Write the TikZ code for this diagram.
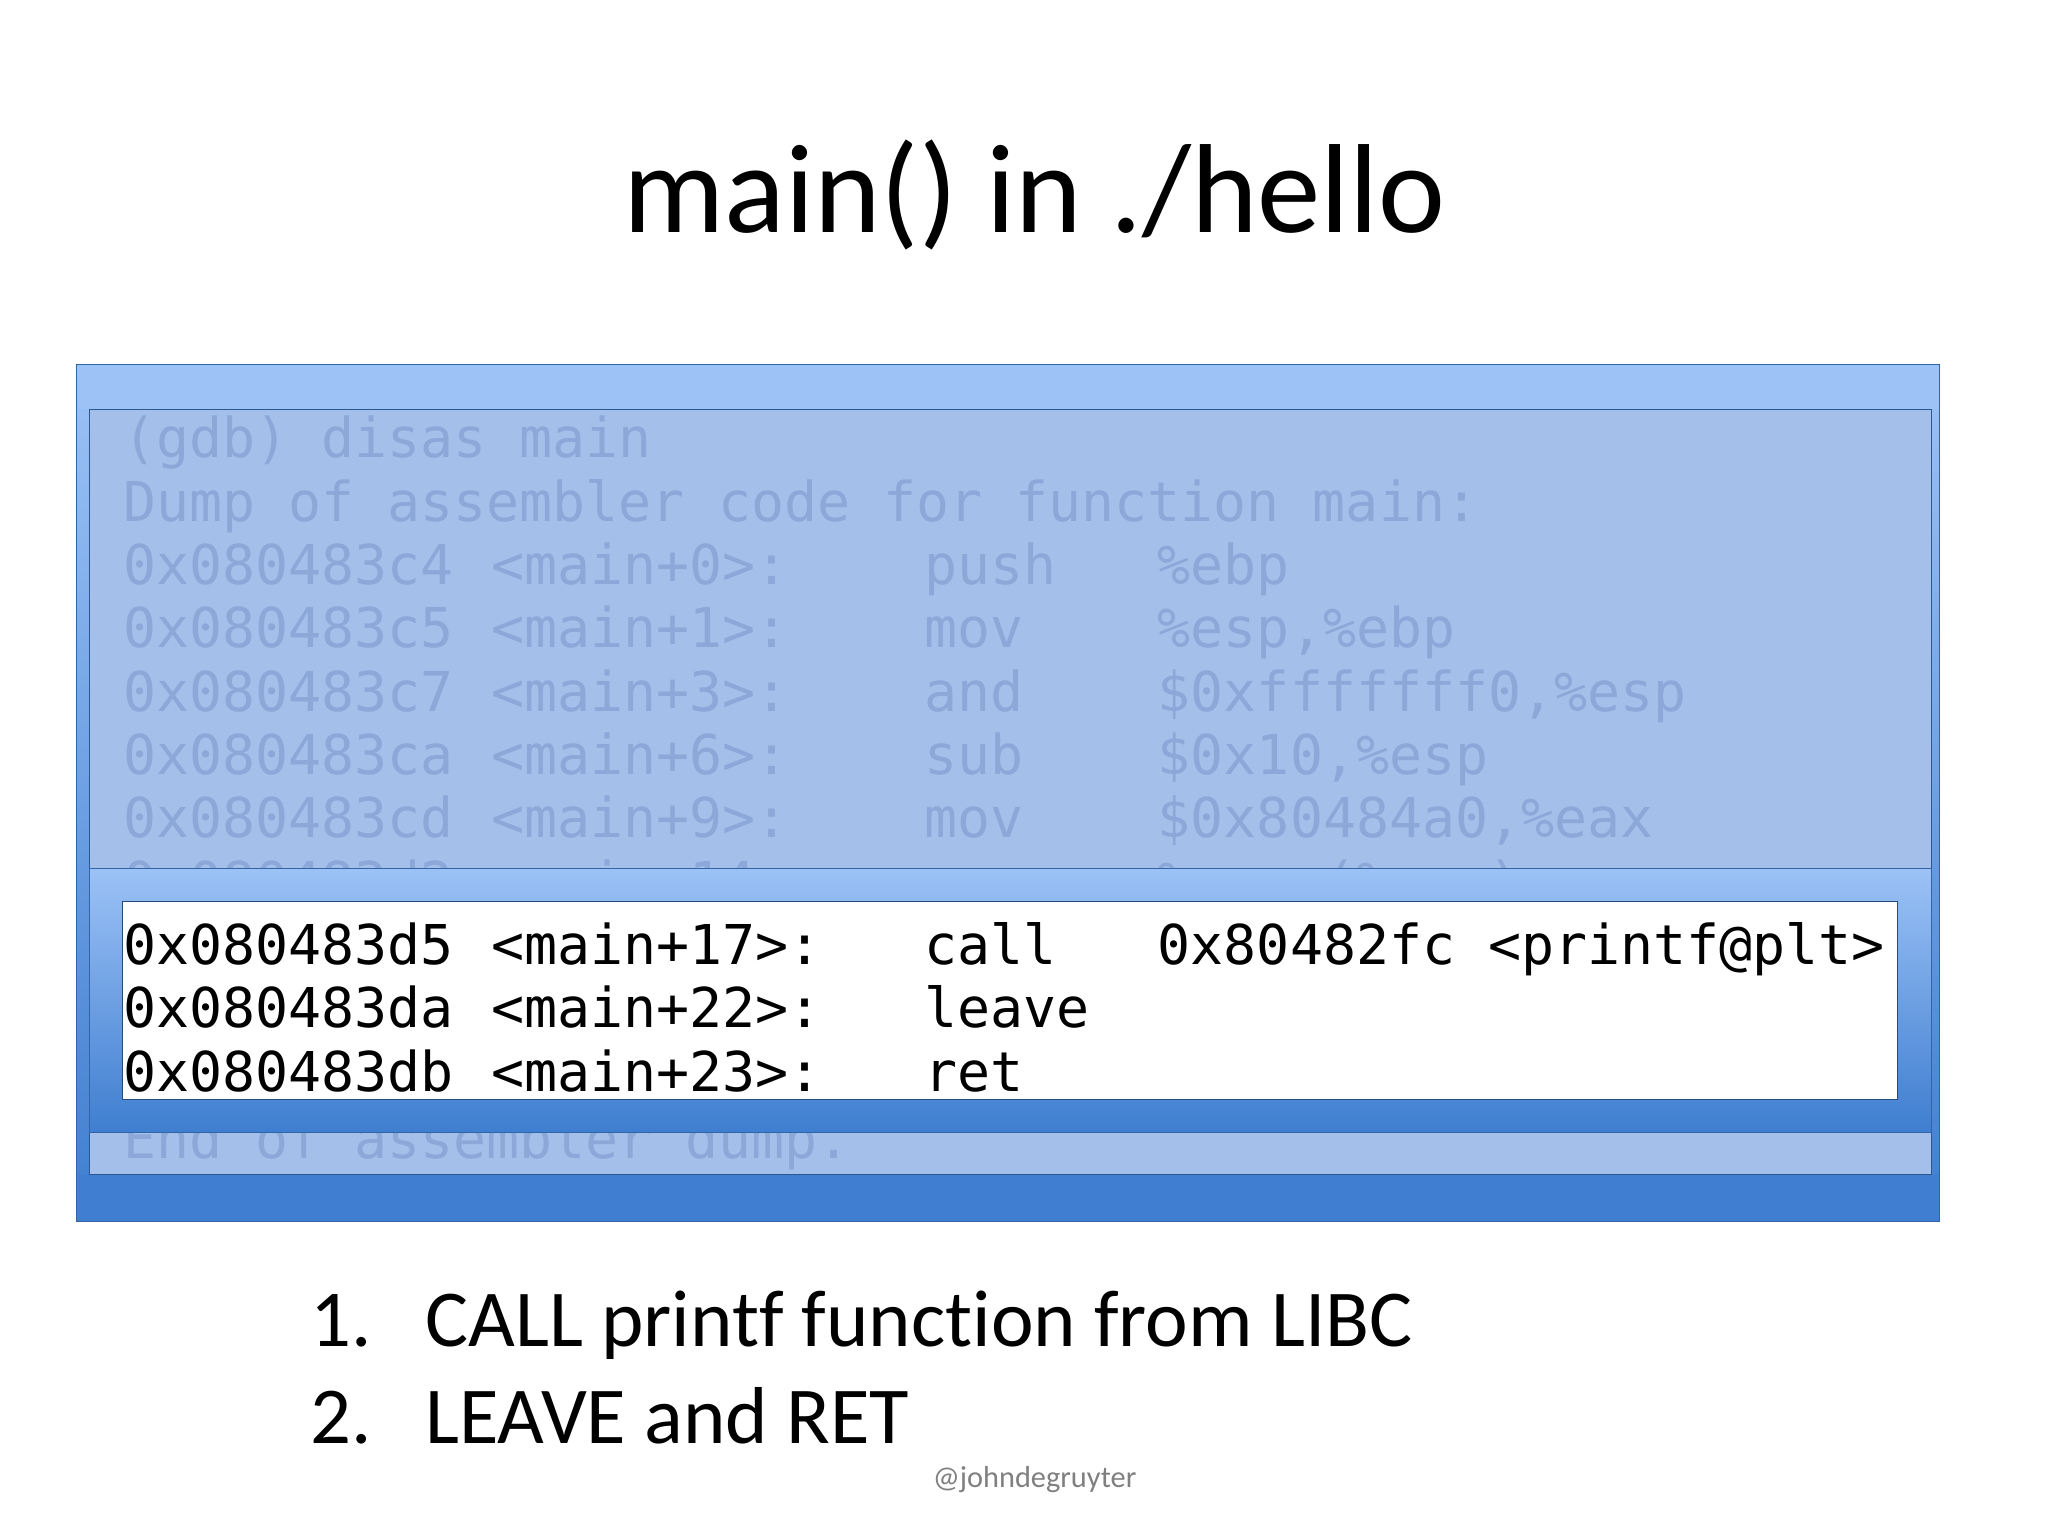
\documentclass[tikz,border=0pt]{standalone}
\usepackage{fontspec}
\setmainfont{Carlito}[Ligatures={NoCommon}]
\setmonofont{DejaVu Sans Mono}
\begin{document}
\begin{tikzpicture}[x=0.5pt,y=-0.5pt,
  faded/.style={anchor=base west,inner sep=0pt,font=\fontsize{20.8}{21}\ttfamily,text=fadetxt},
  hot/.style={anchor=base west,inner sep=0pt,font=\fontsize{20.8}{21}\ttfamily,text=black},
  item/.style={anchor=base west,inner sep=0pt,font=\fontsize{30.6}{31}\selectfont}]
\definecolor{fadetxt}{HTML}{8CA8D8}
\definecolor{bandtop}{HTML}{9CC2F6}
\definecolor{bandbot}{HTML}{3F7ED0}
\definecolor{screen}{HTML}{A3BFEA}
\useasboundingbox (0,0) rectangle (1552,1164);
\fill[white] (0,0) rectangle (1552,1164);
\node[inner sep=0pt,font=\fontsize{48}{48}\selectfont] (title) at (784,148) {main() in ./hello};
% outer panel
\shade[top color=bandtop,bottom color=bandbot,draw=bandbot!80!black] (58,276) rectangle (1470,926);
\fill[bandtop] (59,277) rectangle (1469,310);
\fill[bandbot] (59,890) rectangle (1469,925);
\draw[fill=screen,draw=bandbot!70!black] (68,310) rectangle (1464,890);
% faded text
\node[faded] (l1) at (93,347) {(gdb) disas main};
\node[faded] (l2) at (93,395) {Dump of assembler code for function main:};
\foreach \y/\a/\b/\c/\d [count=\i] in {443/0x080483c4/<main+0>:/push/\%ebp,
  491/0x080483c5/<main+1>:/mov/{\%esp,\%ebp},
  539/0x080483c7/<main+3>:/and/{\$0xfffffff0,\%esp},
  587/0x080483ca/<main+6>:/sub/{\$0x10,\%esp},
  635/0x080483cd/<main+9>:/mov/{\$0x80484a0,\%eax},
  683/0x080483d2/<main+14>:/mov/{\%eax,(\%esp)}}{
  \node[faded] (a\i) at (93,\y) {\a};
  \node[faded] (b\i) at (372,\y) {\b};
  \node[faded] (c\i) at (700,\y) {\c};
  \node[faded] (d\i) at (877,\y) {\d};
}
\node[faded] (l9) at (93,878) {End of assembler dump.};
% highlight band
\shade[top color=bandtop,bottom color=bandbot,draw=bandbot!80!black] (68,658) rectangle (1464,858);
\draw[fill=white,draw=bandbot!60!black] (93,683) rectangle (1438,833);
\foreach \y/\a/\b/\c/\d [count=\i] in {731/0x080483d5/<main+17>:/call/{0x80482fc <printf@plt>},
  779/0x080483da/<main+22>:/leave/{},
  827/0x080483db/<main+23>:/ret/{}}{
  \node[hot] (ha\i) at (93,\y) {\a};
  \node[hot] (hb\i) at (372,\y) {\b};
  \node[hot] (hc\i) at (700,\y) {\c};
  \node[hot] (hd\i) at (877,\y) {\d};
}
\node[item] (n1) at (235,1020) {1.};
\node[item] (t1) at (322,1020) {CALL printf function from LIBC};
\node[item] (n2) at (235,1094) {2.};
\node[item] (t2) at (322,1094) {LEAVE and RET};
\node[inner sep=0pt,font=\fontsize{11.5}{12}\selectfont,text=gray] (cr) at (784,1121) {@johndegruyter};
\end{tikzpicture}
\end{document}
